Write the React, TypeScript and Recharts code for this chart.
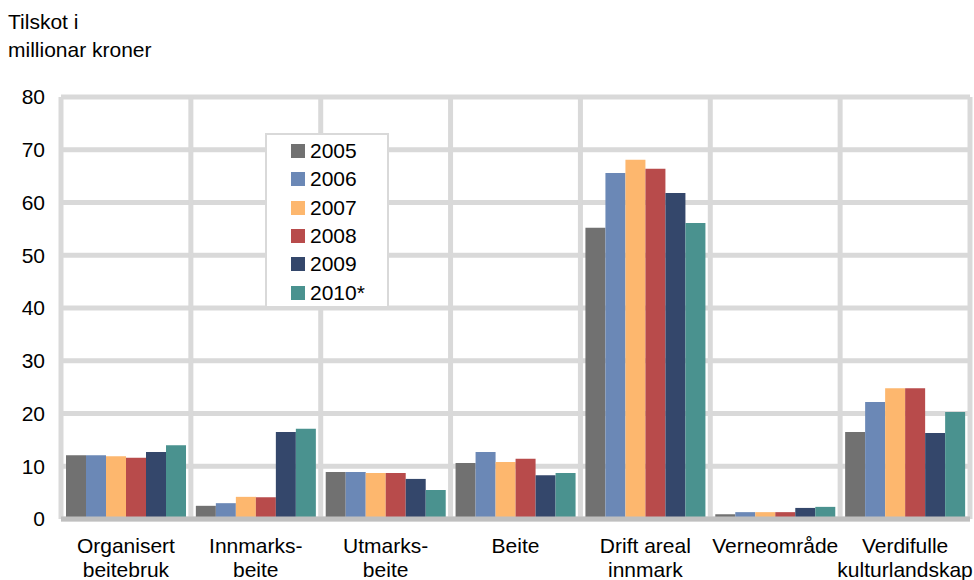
import React from 'react';
import { BarChart, Bar, XAxis, YAxis, CartesianGrid, Legend } from 'recharts';

const categories = [
  'Organisert\nbeitebruk',
  'Innmarks-\nbeite',
  'Utmarks-\nbeite',
  'Beite',
  'Drift areal\ninnmark',
  'Verneområde',
  'Verdifulle\nkulturlandskap',
];

const years = ['2005', '2006', '2007', '2008', '2009', '2010*'];

const v2005 = [12.1, 2.5, 8.9, 10.6, 55.2, 0.9, 16.5];
const v2006 = [12.1, 3.0, 8.9, 12.7, 65.6, 1.3, 22.2];
const v2007 = [11.9, 4.2, 8.7, 10.8, 68.1, 1.3, 24.8];
const v2008 = [11.6, 4.1, 8.7, 11.4, 66.4, 1.3, 24.8];
const v2009 = [12.7, 16.5, 7.6, 8.3, 61.8, 2.1, 16.3];
const v2010 = [14.0, 17.1, 5.5, 8.7, 56.1, 2.3, 20.3];

const yTicks = [0, 10, 20, 30, 40, 50, 60, 70, 80];

const colors = ['#717171', '#6b88b6', '#fdb76e', '#b84b4b', '#34476b', '#4a928f'];
const seriesValues = [v2005, v2006, v2007, v2008, v2009, v2010];

const data = categories.map((c, i) => {
  const row: any = { name: c };
  years.forEach((y, k) => {
    row[y] = seriesValues[k][i];
  });
  return row;
});

const FONT = '"Liberation Sans", Arial, sans-serif';
const FS = 21;

function CategoryTick({ x, y, payload }: any) {
  const lines = String(payload.value).split('\n');
  return (
    <text x={x} y={y + 32} textAnchor="middle" fontSize={FS} fill="#000" fontFamily={FONT}>
      {lines.map((l, i) => (
        <tspan key={i} x={x} dy={i === 0 ? 0 : 24}>
          {l}
        </tspan>
      ))}
    </text>
  );
}

function YearLegend() {
  return (
    <div
      style={{
        width: 124,
        height: 175,
        boxSizing: 'border-box',
        background: '#fff',
        border: '2px solid #d9d9d9',
        paddingTop: 2,
        fontFamily: FONT,
      }}
    >
      {years.map((y, i) => (
        <div key={y} style={{ display: 'flex', alignItems: 'center', height: 28.3 }}>
          <span
            style={{
              display: 'inline-block',
              width: 14,
              height: 14,
              marginLeft: 24,
              marginRight: 5,
              background: colors[i],
            }}
          />
          <span style={{ fontSize: FS, color: '#000' }}>{y}</span>
        </div>
      ))}
    </div>
  );
}

export default function App() {
  return (
    <div style={{ position: 'absolute', left: 0, top: 0, width: 974, height: 580, background: '#fff', fontFamily: FONT }}>
      <div style={{ position: 'absolute', left: 8, top: 8, fontSize: FS, lineHeight: '28px', color: '#000', zIndex: 2 }}>
        Tilskot i
        <br />
        millionar kroner
      </div>
      <BarChart
        width={974}
        height={580}
        data={data}
        margin={{ top: 97, right: 4, left: 0, bottom: 0 }}
        barCategoryGap={5}
        barGap={0}
      >
        <CartesianGrid
          stroke="#d9d9d9"
          strokeWidth={5}
          verticalCoordinatesGenerator={({ offset }: any) =>
            categories.map((_, i) => offset.left + (i * offset.width) / categories.length).concat([offset.left + offset.width])
          }
        />
        <XAxis
          dataKey="name"
          height={61}
          interval={0}
          tickLine={false}
          tickSize={0}
          axisLine={{ stroke: '#bfbfbf', strokeWidth: 5 }}
          tick={<CategoryTick />}
        />
        <YAxis
          width={61}
          domain={[0, 80]}
          ticks={yTicks}
          interval={0}
          axisLine={false}
          tickLine={false}
          tickSize={0}
          tickMargin={16}
          tick={{ fontSize: FS, fill: '#000', fontFamily: FONT }}
        />
        <Legend
          layout="vertical"
          align="center"
          verticalAlign="middle"
          content={<YearLegend />}
          wrapperStyle={{ left: 265, top: 133, width: 124 }}
        />
        {years.map((y, k) => (
          <Bar key={y} dataKey={y} fill={colors[k]} isAnimationActive={false} />
        ))}
      </BarChart>
    </div>
  );
}
